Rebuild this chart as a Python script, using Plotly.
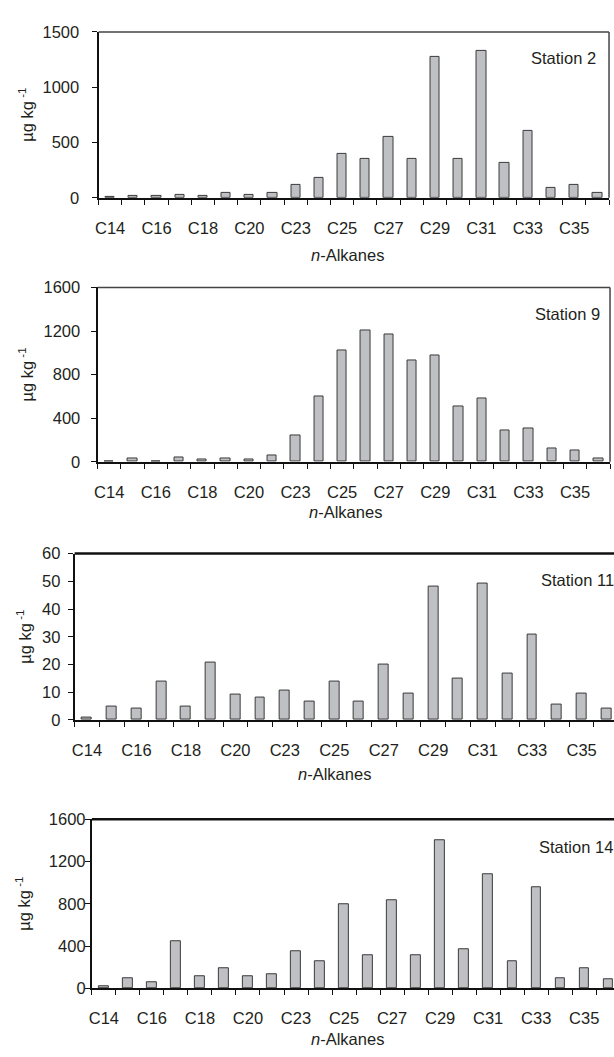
import plotly.graph_objects as go

# ---------------- data ----------------
categories = ["C14", "C15", "C16", "C17", "C18", "C19", "C20", "C21",
              "C23", "C24", "C25", "C26", "C27", "C28", "C29", "C30",
              "C31", "C32", "C33", "C34", "C35", "C36"]

station2 = [5, 15, 15, 30, 15, 40, 30, 40, 118, 175, 394, 353, 548, 353,
            1277, 353, 1330, 317, 601, 92, 118, 40]
station9 = [0, 30, 0, 42, 18, 30, 18, 57, 240, 598, 1022, 1203, 1167, 926,
            980, 505, 586, 292, 310, 120, 108, 30]
station11 = [1.0, 5.0, 4.0, 13.8, 5.0, 20.6, 9.2, 8.1, 10.6, 6.6, 13.8, 6.6,
             20.1, 9.7, 48.2, 14.8, 49.3, 16.9, 30.9, 5.6, 9.7, 4.0]
station14 = [15, 96, 56, 450, 112, 192, 112, 136, 353, 260, 791, 313, 831,
             313, 1404, 369, 1079, 260, 955, 96, 192, 84]

station_names = ["Station 2", "Station 9", "Station 11", "Station 14"]
series = [station2, station9, station11, station14]
y_ranges = [[0, 1500], [0, 1600], [0, 60], [0, 1600]]
y_dticks = [500, 400, 10, 400]

x_title = "<i>n</i>-Alkanes"
y_title = "µg kg<sup> -1</sup>"

# ---------------- layout geometry (pixels) ----------------
W, H = 614, 1057
FONT = "Liberation Sans, Arial, sans-serif"
FS = 16.5
TXT = "#231f20"

panels = [
    dict(x0=96, x1=609, y0=23.3, y1=192, xr=[-0.5, 21.5], frame="gray",
         lab=("right", 598, 50), xt=(346, 250), yt=23, stand=9),
    dict(x0=95, x1=610, y0=283.3, y1=460.7, xr=[-0.5, 21.5], frame="gray",
         lab=("right", 602, 310), xt=(344, 511.7), yt=23, stand=7),
    dict(x0=72, x1=614, y0=554, y1=723.3, xr=[-0.5, 21.31], frame="black",
         lab=("left", 539, 580.7), xt=(333, 778), yt=21, stand=4),
    dict(x0=89.3, x1=614, y0=824.3, y1=996.3, xr=[-0.5, 21.24], frame="black",
         lab=("left", 536.7, 852.7), xt=(346, 1048), yt=20, stand=-4),
]


def px(x):
    return x / W


def py(y):
    return 1 - y / H


xidx = list(range(len(categories)))
label_idx = xidx[::2]
label_txt = categories[::2]
boundaries = [i - 0.5 for i in range(len(categories) + 1)]

fig = go.Figure()
annotations = []
shapes = []

for k, (p, vals) in enumerate(zip(panels, series)):
    n = "" if k == 0 else str(k + 1)
    fig.add_trace(go.Bar(
        x=xidx, y=vals, width=0.4, xaxis="x" + n, yaxis="y" + n,
        marker=dict(color="#bfc0c4", line=dict(color="#3a3a3a", width=1)),
        showlegend=False, hoverinfo="skip",
    ))
    fig.layout["xaxis" + n] = dict(
        domain=[px(p["x0"]), px(p["x1"])], anchor="y" + n,
        range=p["xr"], showgrid=False, zeroline=False,
        showline=True, linecolor="#111", linewidth=2,
        tickmode="array", tickvals=label_idx, ticktext=label_txt,
        ticks="outside", ticklen=0, tickcolor="#111",
        ticklabelstandoff=14,
        minor=dict(tickmode="array", tickvals=boundaries, ticks="outside",
                   ticklen=5, tickwidth=1, tickcolor="#111", showgrid=False),
        tickfont=dict(family=FONT, size=FS, color=TXT),
        fixedrange=True,
    )
    fig.layout["yaxis" + n] = dict(
        domain=[py(p["y1"]), py(p["y0"])], anchor="x" + n,
        range=y_ranges[k], dtick=y_dticks[k], showgrid=False,
        zeroline=False, showline=True, linecolor="#111", linewidth=2,
        ticks="outside", ticklen=5, tickwidth=1, tickcolor="#111",
        ticklabelstandoff=p["stand"],
        tickfont=dict(family=FONT, size=FS, color=TXT),
        fixedrange=True,
    )
    # top / right frame
    if p["frame"] == "gray":
        shapes.append(dict(type="line", xref="paper", yref="paper",
                           x0=px(p["x0"]), x1=px(p["x1"]), y0=py(p["y0"]), y1=py(p["y0"]),
                           line=dict(color="#444", width=1.5)))
        shapes.append(dict(type="line", xref="paper", yref="paper",
                           x0=px(p["x1"]), x1=px(p["x1"]), y0=py(p["y0"]), y1=py(p["y1"]),
                           line=dict(color="#444", width=1.5)))
    else:
        shapes.append(dict(type="line", xref="paper", yref="paper",
                           x0=px(p["x0"]), x1=1.0, y0=py(p["y0"]), y1=py(p["y0"]),
                           line=dict(color="#111", width=2.5)))
    # station label
    anchor, lx, ly = p["lab"]
    annotations.append(dict(text=station_names[k], xref="paper", yref="paper",
                            x=px(lx), y=py(ly), xanchor=anchor, yanchor="middle",
                            showarrow=False,
                            font=dict(family=FONT, size=FS, color=TXT)))
    # x title
    annotations.append(dict(text=x_title, xref="paper", yref="paper",
                            x=px(p["xt"][0]), y=py(p["xt"][1]), xanchor="center",
                            yanchor="middle", showarrow=False,
                            font=dict(family=FONT, size=FS, color=TXT)))
    # y title
    annotations.append(dict(text=y_title, xref="paper", yref="paper",
                            x=px(p["yt"]), y=py((p["y0"] + p["y1"]) / 2),
                            xanchor="center", yanchor="middle", textangle=-90,
                            showarrow=False,
                            font=dict(family=FONT, size=FS, color=TXT)))

fig.update_layout(
    width=W, height=H, margin=dict(l=0, r=0, t=0, b=0),
    paper_bgcolor="white", plot_bgcolor="white",
    annotations=annotations, shapes=shapes, bargap=0,
)

fig.write_html(
    "out.html",
    config={"displayModeBar": False},
    post_script="document.body.style.margin='0';document.body.style.overflow='hidden';",
)
